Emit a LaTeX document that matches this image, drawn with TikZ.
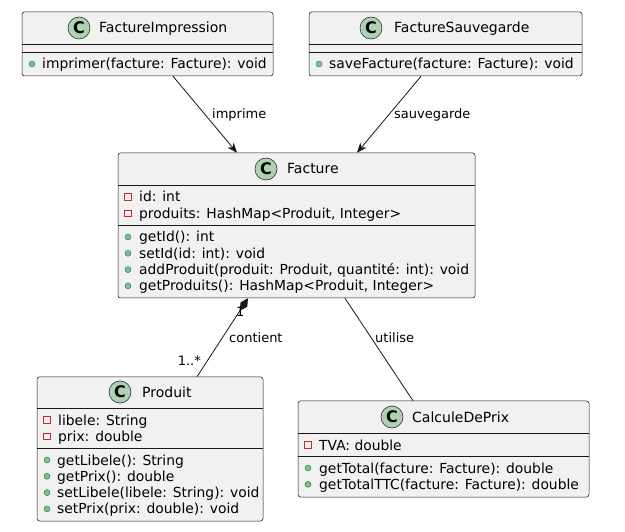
\documentclass[tikz,border=0pt]{standalone}
\usepackage{fontspec}
\setmainfont{DejaVu Sans}
\usetikzlibrary{arrows.meta}

\definecolor{boxbg}{HTML}{F1F1F1}
\definecolor{lineclr}{HTML}{181818}
\definecolor{iconclr}{HTML}{ADD1B2}
\definecolor{pubfill}{HTML}{84BE84}
\definecolor{pubdraw}{HTML}{038048}
\definecolor{privdraw}{HTML}{C82930}

\begin{document}
\begin{tikzpicture}[x=1pt, y=-1pt]
        \tikzstyle{cls}=[draw=lineclr, fill=boxbg, rounded corners=2.5pt, line width=.5pt, inner sep=0pt]
        \tikzstyle{sep}=[draw=lineclr, line width=.5pt]
        \tikzstyle{circ}=[circle, draw=lineclr, fill=iconclr, line width=.5pt, minimum size=22pt, inner sep=0pt, font=\fontsize{16}{16}\selectfont\bfseries]
        \tikzstyle{clsname}=[anchor=base west, inner sep=0pt, font=\fontsize{14}{16}\selectfont]
        \tikzstyle{mtext}=[anchor=base west, inner sep=0pt, font=\fontsize{13.85}{16}\selectfont]
        \tikzstyle{pub}=[circle, draw=pubdraw, fill=pubfill, line width=.4pt, minimum size=6pt, inner sep=0pt]
        \tikzstyle{priv}=[rectangle, draw=privdraw, line width=.6pt, minimum size=6.5pt, inner sep=0pt]
        \tikzstyle{lbl}=[anchor=west, inner sep=0pt, font=\fontsize{13}{15}\selectfont]
        \tikzstyle{conn}=[draw=lineclr, line width=.8pt]

        \useasboundingbox[fill=white] (0,0) rectangle (625,532);

        % class boxes
        \node[cls, minimum width=251pt, minimum height=64pt] (fi) at (147.5,44) {};
        \node[cls, minimum width=273pt, minimum height=64pt] (fs) at (445.5,44) {};
        \node[cls, minimum width=357pt, minimum height=145pt] (f) at (296.5,225.5) {};
        \node[cls, minimum width=226pt, minimum height=144pt] (p) at (150,449) {};
        \node[cls, minimum width=291pt, minimum height=96pt] (c) at (443.5,449) {};

        % FactureImpression
        \node[circ] (fiC) at (79,28) {C};
        \node[clsname] (fiN) at (99,33) {FactureImpression};
        \draw[sep] (22,44) -- (273,44);
        \draw[sep] (22,52) -- (273,52);
        \node[pub] (fim1) at (32,64) {};
        \node[mtext] (fit1) at (42,69) {imprimer(facture: Facture): void};

        % FactureSauvegarde
        \node[circ] (fsC) at (371,28) {C};
        \node[clsname] (fsN) at (394,33) {FactureSauvegarde};
        \draw[sep] (309,44) -- (582,44);
        \draw[sep] (309,52) -- (582,52);
        \node[pub] (fsm1) at (319,64) {};
        \node[mtext] (fst1) at (329,69) {saveFacture(facture: Facture): void};

        % Facture
        \node[circ] (fC) at (266,169) {C};
        \node[clsname] (fN) at (287,174) {Facture};
        \draw[sep] (118,185) -- (475,185);
        \draw[sep] (118,225) -- (475,225);
        \foreach \t [count=\i] in {{id: int}, {produits: HashMap<Produit, Integer>}} {
            \node[priv] (fa\i) at (128,{197+16.3*(\i-1)}) {};
            \node[mtext] (fat\i) at (139,{202+16.3*(\i-1)}) {\t};
        }
        \foreach \t [count=\i] in {{getId(): int}, {setId(id: int): void}, {addProduit(produit: Produit, quantité: int): void}, {getProduits(): HashMap<Produit, Integer>}} {
            \node[pub] (fm\i) at (128,{237+16.3*(\i-1)}) {};
            \node[mtext] (fmt\i) at (139,{242+16.3*(\i-1)}) {\t};
        }

        % Produit
        \node[circ] (pC) at (120,392) {C};
        \node[clsname] (pN) at (142,397) {Produit};
        \draw[sep] (37,408) -- (263,408);
        \draw[sep] (37,448) -- (263,448);
        \foreach \t [count=\i] in {{libele: String}, {prix: double}} {
            \node[priv] (pa\i) at (47,{420+16.3*(\i-1)}) {};
            \node[mtext] (pat\i) at (58,{425+16.3*(\i-1)}) {\t};
        }
        \foreach \t [count=\i] in {{getLibele(): String}, {getPrix(): double}, {setLibele(libele: String): void}, {setPrix(prix: double): void}} {
            \node[pub] (pm\i) at (47,{460+16.3*(\i-1)}) {};
            \node[mtext] (pmt\i) at (57,{465+16.3*(\i-1)}) {\t};
        }

        % CalculeDePrix
        \node[circ] (cC) at (392,417) {C};
        \node[clsname] (cN) at (412,422) {CalculeDePrix};
        \draw[sep] (298,433) -- (589,433);
        \draw[sep] (298,456) -- (589,456);
        \node[priv] (ca1) at (308,445) {};
        \node[mtext] (cat1) at (319,450) {TVA: double};
        \foreach \t [count=\i] in {{getTotal(facture: Facture): double}, {getTotalTTC(facture: Facture): double}} {
            \node[pub] (cm\i) at (308,{468+16.3*(\i-1)}) {};
            \node[mtext] (cmt\i) at (319,{473+16.3*(\i-1)}) {\t};
        }

        % relations
        \draw[conn, -{Stealth[length=10pt,width=8pt,inset=3pt]}] ([xshift=25.5pt]fi.south) -- ([xshift=-59.5pt]f.north);
        \draw[conn, -{Stealth[length=10pt,width=8pt,inset=3pt]}] ([xshift=-24.5pt]fs.south) -- ([xshift=60.5pt]f.north);
        \draw[conn, {Diamond[length=15pt,width=8pt]}-] ([xshift=-48.5pt]f.south) -- ([xshift=47pt]p.north);
        \draw[conn] ([xshift=48.5pt]f.south) -- ([xshift=-30.5pt]c.north);

        \node[lbl] (limp) at (212,115) {imprime};
        \node[lbl] (lsav) at (394,115) {sauvegarde};
        \node[lbl] (lone) at (236,312) {1};
        \node[lbl] (lcon) at (229,338) {contient};
        \node[lbl, anchor=east] (lmany) at (201,361) {1..*};
        \node[lbl] (luti) at (375,338) {utilise};
\end{tikzpicture}
\end{document}
